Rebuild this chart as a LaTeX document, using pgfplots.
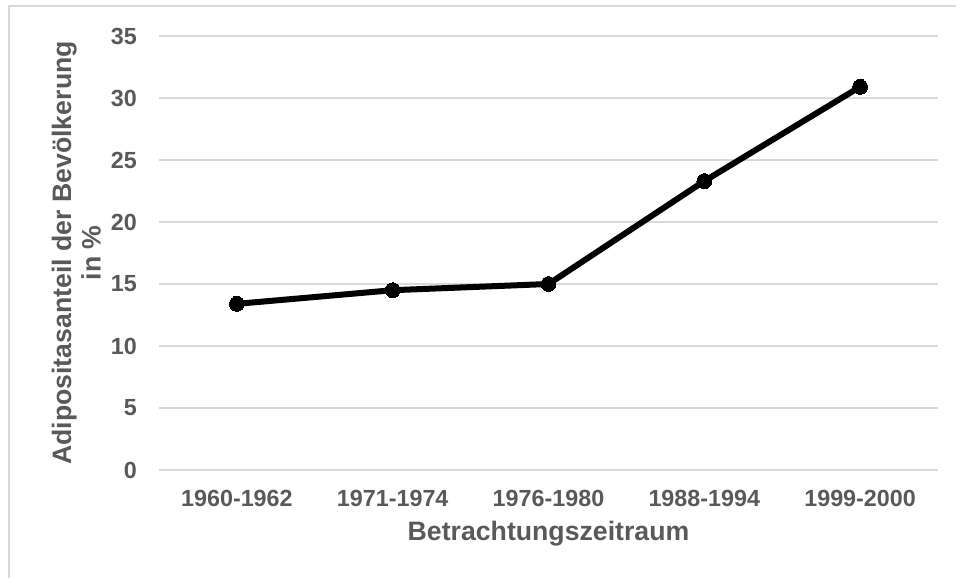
\documentclass[border=0pt]{standalone}
\usepackage{fontspec}
\setmainfont{Liberation Sans}[BoldFont={Liberation Sans Bold}]
\newfontfamily\lsbold{Liberation Sans Bold}
\usepackage{pgfplots}
\pgfplotsset{compat=1.18}
\definecolor{txt}{HTML}{595959}
\definecolor{grd}{HTML}{D9D9D9}
\begin{document}
\begin{tikzpicture}[x=0.75pt,y=0.75pt]
\useasboundingbox (0,0) rectangle (956,578);
\draw[grd, line width=1.5pt] (9,0) -- (9,572) -- (956,572);
\begin{axis}[
  at={(119.25pt,81pt)}, anchor=south west,
  scale only axis, width=584.25pt, height=325.5pt,
  xmin=-0.5, xmax=4.5, ymin=0, ymax=35,
  xtick={0,1,2,3,4},
  xticklabels={1960-1962,1971-1974,1976-1980,1988-1994,1999-2000},
  ytick={0,5,10,15,20,25,30,35},
  axis line style={draw=none},
  major tick length=0pt,
  ymajorgrids, grid style={grd, line width=1.2pt},
  /pgf/number format/assume math mode=true,
  tick label style={font=\lsbold\fontsize{17.5}{20}\selectfont, text=txt},
  xticklabel style={anchor=center, inner sep=0pt, yshift=-21.4pt},
  yticklabel style={anchor=east, inner sep=0pt, xshift=-16.5pt},
  xlabel={Betrachtungszeitraum},
  ylabel={Adipositasanteil der Bevölkerung\\in \%},
  label style={font=\lsbold\fontsize{20}{22}\selectfont, text=txt},
  xlabel style={at={(axis description cs:0.5,0)}, anchor=center, inner sep=0pt, yshift=-47.5pt},
  ylabel style={at={(axis description cs:0,0.5)}, anchor=center, align=center, inner sep=0pt, yshift=62pt},
  clip=false,
]
\addplot[black, line width=4.5pt, mark=*, mark size=5.6pt, mark options={line width=0pt}] coordinates {
  (0,13.4) (1,14.5) (2,15.0) (3,23.3) (4,30.9)
};
\end{axis}
\end{tikzpicture}
\end{document}
